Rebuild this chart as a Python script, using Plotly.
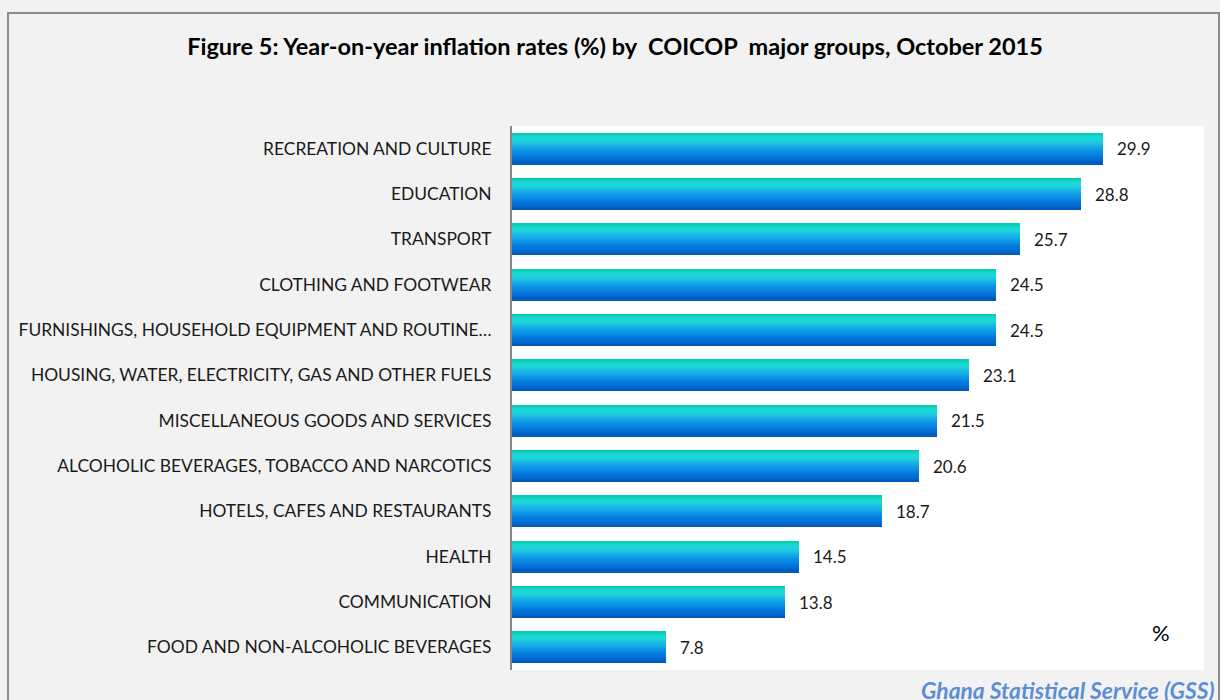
import plotly.graph_objects as go

# ---- data (bottom to top) ----
categories = [
    "FOOD AND NON-ALCOHOLIC BEVERAGES",
    "COMMUNICATION",
    "HEALTH",
    "HOTELS, CAFES AND RESTAURANTS",
    "ALCOHOLIC BEVERAGES, TOBACCO AND NARCOTICS",
    "MISCELLANEOUS GOODS AND SERVICES",
    "HOUSING, WATER, ELECTRICITY, GAS AND OTHER FUELS",
    "FURNISHINGS, HOUSEHOLD EQUIPMENT AND ROUTINE…",
    "CLOTHING AND FOOTWEAR",
    "TRANSPORT",
    "EDUCATION",
    "RECREATION AND CULTURE",
]
values = [7.8, 13.8, 14.5, 18.7, 20.6, 21.5, 23.1, 24.5, 24.5, 25.7, 28.8, 29.9]

title_text = "Figure 5: Year-on-year inflation rates (%) by \u00a0COICOP \u00a0major groups, October 2015"
source_text = "Ghana Statistical Service (GSS)"
unit_text = "%"

# ---- gradient helper ----
stops = [(0.0, (0, 84, 178)), (0.12, (0, 102, 204)), (0.35, (8, 132, 228)),
         (0.55, (18, 166, 230)), (0.78, (30, 212, 220)), (0.9, (28, 216, 212)),
         (1.0, (2, 204, 168))]


def grad(t):
    for (a, ca), (b, cb) in zip(stops[:-1], stops[1:]):
        if a <= t <= b:
            f = (t - a) / (b - a)
            c = [round(ca[k] + (cb[k] - ca[k]) * f) for k in range(3)]
            return "rgb(%d,%d,%d)" % tuple(c)
    return "rgb(%d,%d,%d)" % stops[-1][1]


N = 28
bar_frac = 0.685
step = bar_frac / N

fig = go.Figure()
for i in range(N):
    w = step * 1.6 if i < N - 1 else step
    if i < N - 1 and i * step + w > bar_frac:
        w = bar_frac - i * step
    fig.add_trace(go.Bar(
        x=values, y=categories, orientation="h",
        offset=-bar_frac / 2 + i * step, width=w,
        marker=dict(color=grad((i + 0.5) / N), line=dict(width=0)),
        showlegend=False, hoverinfo="skip" if i != N // 2 else "x+y",
    ))

annotations = []
for c, v in zip(categories, values):
    annotations.append(dict(x=v, y=c, xref="x", yref="y", text=f"{v:.1f}",
                            showarrow=False, xanchor="left", yanchor="middle",
                            xshift=12, font=dict(family="Lato", size=17, color="#1a1a1a")))

L, R, T, B = 512, 1204, 126, 670
W, H = 1220, 700


def px(x):
    return (x - L) / (R - L)


def py(y):
    return (B - y) / (B - T)


annotations.append(dict(x=px(1161), y=py(632), xref="paper", yref="paper", text=unit_text,
                        showarrow=False, xanchor="center", yanchor="middle",
                        font=dict(family="Lato", size=22, color="#000")))
annotations.append(dict(x=px(1217), y=py(690), xref="paper", yref="paper",
                        text="<b><i>" + source_text + "</i></b>",
                        showarrow=False, xanchor="right", yanchor="middle",
                        font=dict(family="Lato", size=22.8, color="#5b8ed6")))

fig.update_layout(
    width=W, height=H,
    margin=dict(l=L, r=W - R, t=T, b=H - B, pad=0),
    paper_bgcolor="#f2f2f2", plot_bgcolor="#ffffff",
    barmode="overlay", bargap=0,
    title=dict(text="<b>" + title_text + "</b>", x=615 / W, xref="container", xanchor="center",
               y=1 - 47 / H, yref="container", yanchor="middle",
               font=dict(family="Lato", size=23.5, color="#000")),
    xaxis=dict(range=[0, 35], visible=False, fixedrange=True),
    yaxis=dict(type="category", categoryorder="array", categoryarray=categories,
               range=[-0.5, 11.5], showline=True, linecolor="#888888", linewidth=2,
               showgrid=False, zeroline=False, ticks="", ticklabelstandoff=15,
               tickfont=dict(family="Lato", size=17.4, color="#1a1a1a")),
    annotations=annotations,
    shapes=[dict(type="rect", xref="paper", yref="paper",
                 x0=px(8), x1=px(1219), y0=py(13), y1=py(720),
                 line=dict(color="#8c8c8c", width=2), fillcolor="rgba(0,0,0,0)", layer="below")],
    font=dict(family="Lato"),
)

fig.write_html("out.html")
